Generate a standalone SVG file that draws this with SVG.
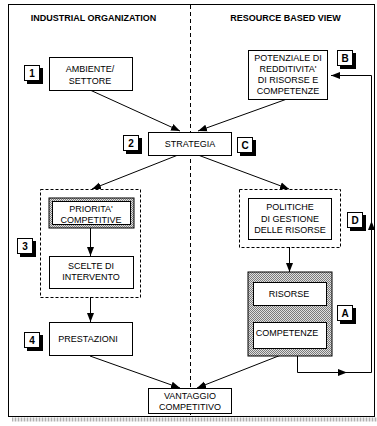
<svg xmlns="http://www.w3.org/2000/svg" width="377" height="426" viewBox="0 0 377 426">
<style>
text{font-family:"Liberation Sans",Arial,sans-serif;font-size:9px;fill:#000}
.t{font-weight:bold;font-size:9px}
.bt{font-weight:bold;font-size:10px;text-anchor:middle}
.c{text-anchor:middle}
.box{fill:#fff;stroke:#000;stroke-width:1}
.dash{fill:none;stroke:#000;stroke-width:1;stroke-dasharray:3,2}
.ln{fill:none;stroke:#000;stroke-width:1;marker-end:url(#ah)}
.sh{fill:#000}
</style>
<defs>
<marker id="ah" markerUnits="userSpaceOnUse" markerWidth="10" markerHeight="8" refX="9" refY="4" orient="auto">
<path d="M0,0.5 L9,4 L0,7.5 Z" fill="#000"/>
</marker>
<pattern id="hatch" width="2" height="2" patternUnits="userSpaceOnUse">
<rect width="2" height="2" fill="#e0e0e0"/>
<rect width="1" height="1" fill="#7a7a7a"/>
<rect x="1" y="1" width="1" height="1" fill="#7a7a7a"/>
</pattern>
<pattern id="gshadow" width="3" height="4" patternUnits="userSpaceOnUse">
<rect width="3" height="4" fill="#e4e4e4"/>
<rect width="1" height="4" fill="#b0b0b0"/>
</pattern>
</defs>

<g id="frame">
<rect x="12" y="417.5" width="365" height="4" fill="url(#gshadow)"/>
<rect x="8.5" y="4.5" width="366" height="412" fill="#fff" stroke="#000" stroke-width="1"/>
<line x1="190.5" y1="5" x2="190.5" y2="416" stroke="#000" stroke-width="1" stroke-dasharray="4,3"/>
<text class="t" x="93.5" y="21" text-anchor="middle">INDUSTRIAL ORGANIZATION</text>
<text class="t" x="285.5" y="21" text-anchor="middle">RESOURCE BASED VIEW</text>
</g>

<g id="connectors">
<line class="ln" x1="90" y1="90" x2="180" y2="131"/>
<line class="ln" x1="287" y1="99" x2="198" y2="131"/>
<line class="ln" x1="178" y1="155" x2="92" y2="189"/>
<line class="ln" x1="198" y1="155" x2="289" y2="189"/>
<line class="ln" x1="90.5" y1="227" x2="90.5" y2="256"/>
<line class="ln" x1="90.5" y1="297" x2="90.5" y2="322"/>
<line class="ln" x1="90" y1="356" x2="180" y2="388"/>
<line class="ln" x1="289.5" y1="247" x2="289.5" y2="272"/>
<line class="ln" x1="290.5" y1="305" x2="290.5" y2="322"/>
<line class="ln" x1="281" y1="355" x2="197" y2="388"/>
<path class="ln" d="M297.5,355 V372.5 H347"/>
<path class="ln" d="M345,372.5 H371.5 V221"/>
<path class="ln" d="M371.5,223 V75.5 H331"/>
</g>

<g id="ambiente">
<rect class="box" x="49.5" y="57.5" width="83" height="33"/>
<text class="c" x="90" y="72">AMBIENTE/</text>
<text class="c" x="90" y="84">SETTORE</text>
</g>
<g id="badge1">
<rect class="sh" x="27" y="68" width="16" height="16"/>
<rect class="box" x="24.5" y="65.5" width="15" height="15"/>
<text class="bt" x="32" y="77">1</text>
</g>

<g id="potenziale">
<rect class="box" x="248.5" y="50.5" width="79" height="49"/>
<text class="c" x="288" y="61">POTENZIALE DI</text>
<text class="c" x="288" y="72">REDDITIVITA'</text>
<text class="c" x="288" y="83">DI RISORSE E</text>
<text class="c" x="288" y="94">COMPETENZE</text>
</g>
<g id="badgeB">
<rect class="sh" x="340" y="53" width="16" height="16"/>
<rect class="box" x="337.5" y="50.5" width="15" height="15"/>
<text class="bt" x="345" y="62">B</text>
</g>

<g id="strategia">
<rect class="box" x="148.5" y="132.5" width="83" height="23"/>
<text class="c" x="190" y="147">STRATEGIA</text>
</g>
<g id="badge2">
<rect class="sh" x="126" y="138" width="16" height="16"/>
<rect class="box" x="123.5" y="135.5" width="15" height="15"/>
<text class="bt" x="131" y="147">2</text>
</g>
<g id="badgeC">
<rect class="sh" x="240" y="140" width="16" height="16"/>
<rect class="box" x="237.5" y="137.5" width="15" height="15"/>
<text class="bt" x="245" y="149">C</text>
</g>

<g id="gruppo3">
<rect class="dash" x="40.5" y="189.5" width="100" height="108"/>
</g>
<g id="priorita">
<rect x="49" y="198" width="85" height="30" fill="url(#hatch)" stroke="#000" stroke-width="1"/>
<rect class="box" x="52.5" y="201.5" width="78" height="23"/>
<text class="c" x="91" y="212">PRIORITA'</text>
<text class="c" x="91" y="223">COMPETITIVE</text>
</g>
<g id="scelte">
<rect class="box" x="49.5" y="256.5" width="84" height="32"/>
<text class="c" x="91" y="269">SCELTE DI</text>
<text class="c" x="91" y="280">INTERVENTO</text>
</g>
<g id="badge3">
<rect class="sh" x="20" y="241" width="16" height="16"/>
<rect class="box" x="17.5" y="238.5" width="15" height="15"/>
<text class="bt" x="25" y="250">3</text>
</g>

<g id="gruppoD">
<rect class="dash" x="239.5" y="189.5" width="101" height="58"/>
</g>
<g id="politiche">
<rect class="box" x="248.5" y="198.5" width="83" height="41"/>
<text class="c" x="290" y="210">POLITICHE</text>
<text class="c" x="290" y="222">DI GESTIONE</text>
<text class="c" x="290" y="233">DELLE RISORSE</text>
</g>
<g id="badgeD">
<rect class="sh" x="350" y="215" width="16" height="16"/>
<rect class="box" x="347.5" y="212.5" width="15" height="15"/>
<text class="bt" x="355" y="224">D</text>
</g>

<g id="risorse-competenze">
<rect x="248" y="272" width="84" height="84" fill="url(#hatch)" stroke="#000" stroke-width="1"/>
</g>
<g id="risorse">
<rect class="box" x="253.5" y="282.5" width="73" height="23"/>
<text class="c" x="289" y="297">RISORSE</text>
</g>
<g id="competenze">
<rect class="box" x="253.5" y="322.5" width="73" height="26"/>
<text class="c" x="287" y="336">COMPETENZE</text>
</g>
<g id="badgeA">
<rect class="sh" x="340" y="308" width="16" height="16"/>
<rect class="box" x="337.5" y="305.5" width="15" height="15"/>
<text class="bt" x="345" y="317">A</text>
</g>

<g id="prestazioni">
<rect class="box" x="49.5" y="322.5" width="83" height="33"/>
<text class="c" x="88" y="342">PRESTAZIONI</text>
</g>
<g id="badge4">
<rect class="sh" x="27" y="335" width="16" height="16"/>
<rect class="box" x="24.5" y="332.5" width="15" height="15"/>
<text class="bt" x="32" y="344">4</text>
</g>

<g id="vantaggio">
<rect class="box" x="148.5" y="388.5" width="83" height="25"/>
<text class="c" x="190" y="399">VANTAGGIO</text>
<text class="c" x="190" y="410">COMPETITIVO</text>
</g>
</svg>
